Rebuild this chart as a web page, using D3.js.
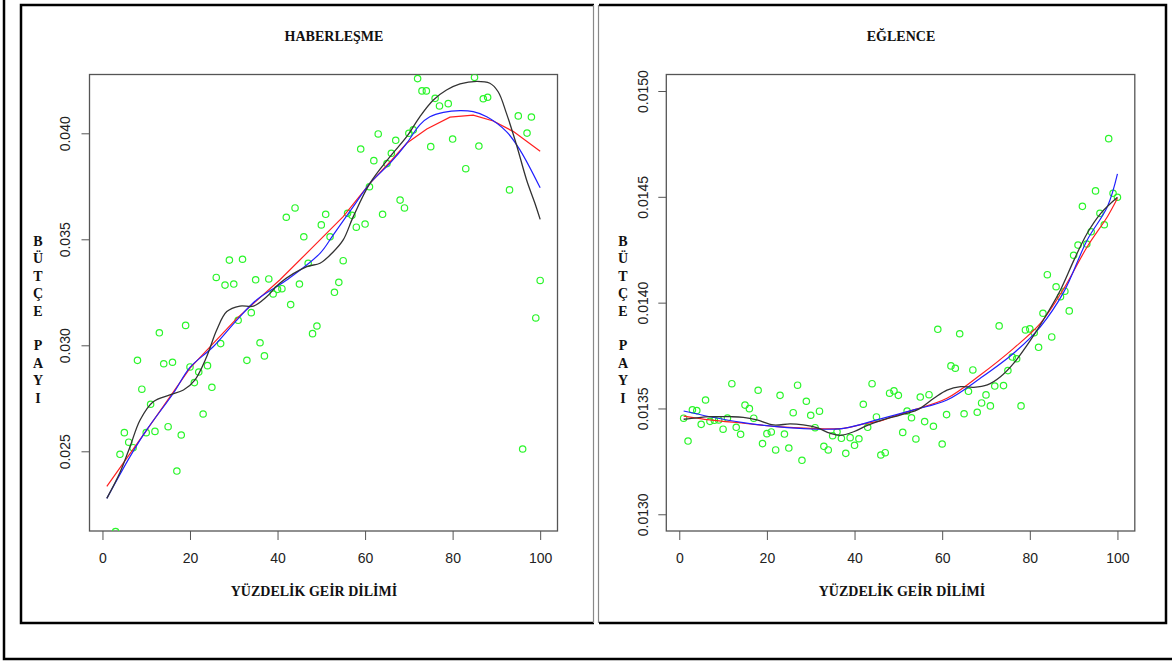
<!DOCTYPE html>
<html><head><meta charset="utf-8">
<script src="https://cdn.jsdelivr.net/npm/d3@7"></script>
<style>body{margin:0;background:#fff}svg{display:block}</style>
</head><body>
<svg id="c" width="1172" height="662"></svg>
<script>
// ---------- DATA ----------
const xTicks = [0, 20, 40, 60, 80, 100];
const habTitle = "HABERLEŞME";
const eglTitle = "EĞLENCE";
const xLabel = "YÜZDELİK GEİR DİLİMİ";
const yLabel = "BÜTÇE PAYI";

const habYTicks = [0.025, 0.030, 0.035, 0.040];
const eglYTicks = [0.0130, 0.0135, 0.0140, 0.0145, 0.0150];

const habX = [3,4,5,6,7,8,9,10,11,12,13,14,15,16,17,18,19,20,21,22,23,24,25,26,27,28,29,30,31,32,33,34,35,36,37,38,39,40,41,42,43,44,45,46,47,48,49,50,51,52,53,54,55,56,57,58,59,60,61,62,63,64,65,66,67,68,69,70,71,72,73,74,75,76,77,79,80,83,85,86,87,88,93,95,96,97,98,99,100];
const habY = [
 0.02121,0.02486,0.02588,0.02543,0.02517,0.02929,0.02793,0.02588,0.02722,0.02594,
 0.03059,0.02913,0.02616,0.02920,0.02407,0.02577,0.03094,0.02898,0.02824,0.02874,
 0.02676,0.02904,0.02802,0.03320,0.03008,0.03284,0.03402,0.03289,0.03118,0.03406,
 0.02929,0.03154,0.03309,0.03012,0.02950,0.03313,0.03242,0.03264,0.03267,0.03604,
 0.03192,0.03648,0.03289,0.03512,0.03387,0.03055,0.03091,0.03568,0.03618,0.03512,
 0.03250,0.03297,0.03399,0.03623,0.03613,0.03557,0.03926,0.03572,0.03748,0.03871,
 0.03997,0.03618,0.03857,0.03906,0.03967,0.03685,0.03648,0.04000,0.04016,0.04258,
 0.04200,0.04200,0.03937,0.04165,0.04129,
 0.04140,0.03973,0.03833,0.04264,0.03940,0.04163,0.04170,0.03733,0.04082,0.02511,0.04001,0.04077,0.03129,0.03306];

const habRed = [[1,0.02335],[10.1,0.02600],[20,0.02892],[30.7,0.03127],[40.5,0.03308],[49.7,0.03497],[55,0.03607],[61.1,0.03764],[66.1,0.03874],[69.5,0.03953],[74.1,0.04020],[79.4,0.04076],[84.7,0.04086],[89.3,0.04058],[93.9,0.04008],[100,0.03915]];
const habBlue = [[1,0.02278],[6.3,0.02475],[10.1,0.02601],[16.2,0.02774],[20,0.02896],[25.3,0.02993],[30.7,0.03119],[35.2,0.03214],[42.1,0.03308],[49.7,0.03434],[52.7,0.03520],[57.3,0.03654],[61.1,0.03764],[65.7,0.03859],[69.5,0.03953],[72.5,0.04040],[74.8,0.04078],[77.9,0.04099],[81.7,0.04107],[84.7,0.04102],[87.8,0.04078],[92.3,0.04008],[95.4,0.03921],[100,0.03743]];
const habBlack = [[1,0.02278],[4,0.02400],[6.3,0.02522],[8.6,0.02648],[11.6,0.02734],[15.4,0.02766],[18.5,0.02789],[21.1,0.02836],[23.8,0.02946],[26.1,0.03072],[28.4,0.03159],[31.4,0.03185],[34.5,0.03185],[37.5,0.03229],[40.5,0.03293],[46.7,0.03371],[49.7,0.03387],[52.7,0.03440],[55,0.03497],[57.3,0.03607],[61.1,0.03764],[65.7,0.03890],[69.5,0.03984],[72.5,0.04078],[75.6,0.04157],[78.6,0.04204],[81.7,0.04233],[85.5,0.04245],[88.5,0.04236],[90.4,0.04196],[92.3,0.04094],[94.6,0.03945],[96.9,0.03780],[98.8,0.03670],[100,0.03594]];

const eglX = d3.range(1, 101);
const eglY = [
 0.013454,0.013346,0.013494,0.013490,0.013425,0.013540,0.013439,0.013444,0.013446,0.013402,
 0.013455,0.013617,0.013411,0.013378,0.013516,0.013499,0.013454,0.013586,0.013334,0.013381,
 0.013389,0.013304,0.013562,0.013379,0.013313,0.013480,0.013610,0.013255,0.013534,0.013468,
 0.013409,0.013487,0.013321,0.013304,0.013371,0.013390,0.013359,0.013288,0.013362,0.013326,
 0.013357,0.013520,0.013411,0.013617,0.013460,0.013280,0.013291,0.013572,0.013583,0.013562,
 0.013387,0.013488,0.013456,0.013356,0.013554,0.013438,0.013565,0.013416,0.013874,0.013332,
 0.013471,0.013701,0.013690,0.013853,0.013475,0.013581,0.013682,0.013482,0.013526,0.013564,
 0.013512,0.013606,0.013890,0.013608,0.013679,0.013743,0.013735,0.013512,0.013871,0.013876,
 0.013858,0.013789,0.013950,0.014132,0.013838,0.014075,0.014028,0.014054,0.013961,0.014224,
 0.014272,0.014455,0.014277,0.014335,0.014528,0.014422,0.014368,0.014775,0.014517,0.014498];

const eglRed = [[1,0.013464],[7,0.013446],[14.6,0.013430],[22.3,0.013414],[29.9,0.013406],[37.5,0.013406],[42.1,0.013427],[45.9,0.013441],[48.2,0.013458],[53.5,0.013493],[61.1,0.013548],[68.7,0.013658],[76.3,0.013784],[82.4,0.013902],[87.8,0.014068],[93.1,0.014264],[97.7,0.014406],[100,0.014493]];
const eglBlue = [[1,0.013488],[7,0.013461],[14.6,0.013433],[22.3,0.013414],[29.9,0.013403],[37.5,0.013406],[45.1,0.013446],[53.5,0.013493],[61.1,0.013540],[68.7,0.013643],[76.3,0.013761],[82.4,0.013886],[87.8,0.014052],[93.1,0.014296],[97.7,0.014453],[100,0.014608]];
const eglBlack = [[1,0.013449],[4,0.013456],[7,0.013461],[11.6,0.013461],[14.6,0.013458],[17.7,0.013446],[21.5,0.013422],[25.3,0.013427],[28.3,0.013422],[31.4,0.013409],[34.4,0.013383],[36.7,0.013373],[39.8,0.013390],[42.8,0.013419],[45.9,0.013443],[50.4,0.013469],[54.3,0.013493],[58.1,0.013548],[61.1,0.013587],[64.2,0.013603],[67.2,0.013600],[70.3,0.013611],[73.3,0.013650],[76.3,0.013713],[80.2,0.013824],[84,0.013950],[87,0.014060],[90.1,0.014202],[93.1,0.014328],[96.2,0.014422],[100,0.014498]];

// ---------- DRAW ----------
const svg = d3.select("#c");
const serif = "'Liberation Serif','Times New Roman',serif";
const sans = "'Liberation Sans',Arial,sans-serif";

// outer frame
svg.append("path").attr("d", "M4,0 V659 H1172").attr("fill", "none").attr("stroke", "#000").attr("stroke-width", 2.5);
// panel frames
svg.append("path").attr("d", "M594,5 H21 V623 H594").attr("fill", "none").attr("stroke", "#000").attr("stroke-width", 2.5);
svg.append("path").attr("d", "M599,5 H1166 V623 H599").attr("fill", "none").attr("stroke", "#000").attr("stroke-width", 2.5);
svg.append("line").attr("x1", 593.5).attr("x2", 593.5).attr("y1", 5).attr("y2", 623).attr("stroke", "#888").attr("stroke-width", 1.2);
svg.append("line").attr("x1", 598.5).attr("x2", 598.5).attr("y1", 5).attr("y2", 623).attr("stroke", "#888").attr("stroke-width", 1.2);

function panel(cfg) {
  const x = d3.scaleLinear().domain([-2.96, 103.96]).range([cfg.left, cfg.right]);
  const y = d3.scaleLinear().domain(cfg.yDomain).range([531, 74.5]);
  const g = svg.append("g");
  const id = "clip" + cfg.key;
  svg.append("clipPath").attr("id", id).append("rect")
    .attr("x", cfg.left).attr("y", 74.5).attr("width", cfg.right - cfg.left).attr("height", 531 - 74.5);

  // title
  g.append("text").attr("x", cfg.titleX).attr("y", 41).attr("text-anchor", "middle")
    .attr("font-family", serif).attr("font-weight", "bold").attr("font-size", 14).attr("fill", "#111").text(cfg.title);
  // x label
  g.append("text").attr("x", cfg.xLabelX).attr("y", 596).attr("text-anchor", "middle")
    .attr("font-family", serif).attr("font-weight", "bold").attr("font-size", 14).attr("fill", "#111").text(xLabel);
  // y label stacked letters
  const yl = g.append("text").attr("font-family", serif).attr("font-weight", "bold").attr("font-size", 14)
    .attr("fill", "#111").attr("text-anchor", "middle");
  Array.from(yLabel).forEach((ch, i) => {
    yl.append("tspan").attr("x", cfg.yLabelX).attr("y", 246 + i * 17.4).text(ch === " " ? "\u00a0" : ch);
  });

  // axes
  const xa = g.append("g").attr("transform", "translate(0,531)")
    .call(d3.axisBottom(x).tickValues(xTicks).tickSize(9).tickPadding(13).tickFormat(d3.format("d")));
  xa.select(".domain").remove();
  xa.selectAll("line").attr("stroke", "#555");
  xa.selectAll("text").attr("font-family", sans).attr("font-size", 14).attr("fill", "#222");

  const ya = g.append("g").attr("transform", `translate(${cfg.left},0)`)
    .call(d3.axisLeft(y).tickValues(cfg.yTicks).tickSize(8).tickFormat(d3.format(cfg.fmt)));
  ya.select(".domain").remove();
  ya.selectAll("line").attr("stroke", "#555");
  ya.selectAll("text").attr("font-family", sans).attr("font-size", 14).attr("fill", "#222")
    .attr("transform", "rotate(-90)").attr("x", 0).attr("y", -cfg.yTickOff).attr("dy", "0.35em")
    .attr("text-anchor", "middle");

  // box
  g.append("rect").attr("x", cfg.left).attr("y", 74.5).attr("width", cfg.right - cfg.left).attr("height", 531 - 74.5)
    .attr("fill", "none").attr("stroke", "#555").attr("stroke-width", 1.3);

  const plot = g.append("g").attr("clip-path", `url(#${id})`);
  // points
  plot.selectAll("circle").data(cfg.xs.map((d, i) => [d, cfg.ys[i]])).join("circle")
    .attr("cx", d => x(d[0])).attr("cy", d => y(d[1])).attr("r", 3.2)
    .attr("fill", "none").attr("stroke", "#2bf52b").attr("stroke-width", 1.2);

  const lineLin = d3.line().x(d => x(d[0])).y(d => y(d[1]));
  const lineSm = d3.line().x(d => x(d[0])).y(d => y(d[1])).curve(d3.curveCatmullRom.alpha(0.5));
  plot.append("path").attr("d", cfg.redLinear ? lineLin(cfg.red) : lineSm(cfg.red)).attr("fill", "none").attr("stroke", "#ff2020").attr("stroke-width", 1.2);
  plot.append("path").attr("d", lineSm(cfg.blue)).attr("fill", "none").attr("stroke", "#2020ff").attr("stroke-width", 1.2);
  plot.append("path").attr("d", lineSm(cfg.black)).attr("fill", "none").attr("stroke", "#333").attr("stroke-width", 1.3);
}

panel({key: "h", left: 89.5, right: 557.5, yDomain: [0.021241, 0.042774], yTicks: habYTicks, fmt: ".3f",
  yTickOff: 24, title: habTitle, titleX: 334, xLabelX: 314, yLabelX: 38,
  xs: habX, ys: habY, red: habRed, blue: habBlue, black: habBlack, redLinear: true});
panel({key: "e", left: 666.3, right: 1134.8, yDomain: [0.012921, 0.015078], yTicks: eglYTicks, fmt: ".4f",
  yTickOff: 23, title: eglTitle, titleX: 901, xLabelX: 902, yLabelX: 623,
  xs: eglX, ys: eglY, red: eglRed, blue: eglBlue, black: eglBlack, redLinear: false});
</script>
</body></html>
